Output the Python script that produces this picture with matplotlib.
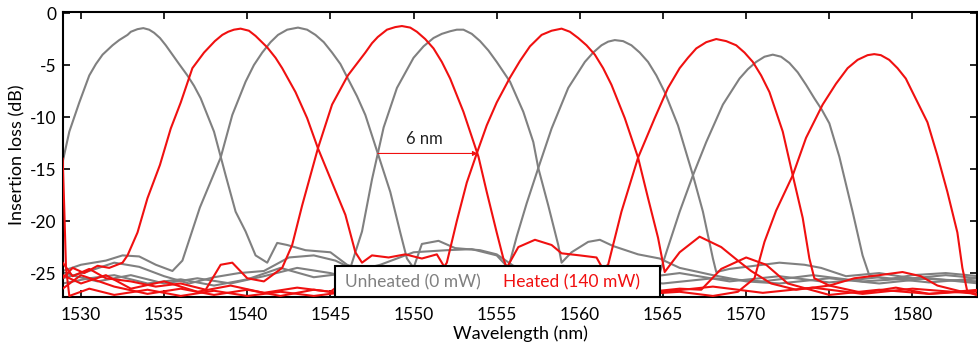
import matplotlib
matplotlib.use("Agg")
import matplotlib.pyplot as plt
from matplotlib.lines import Line2D
from matplotlib.patches import Rectangle

plt.rcParams['font.family'] = ['Lato', 'DejaVu Sans']

# ---------------- data ----------------
# Unheated (0 mW) channels
g1_wl = [1528.9, 1529.3, 1529.6, 1529.9, 1530.5, 1530.9, 1531.3, 1531.9, 1532.3, 1532.8, 1533.0, 1533.4,
         1533.75, 1534.1, 1534.4, 1534.75, 1535.1, 1535.5, 1535.9, 1536.4, 1536.8, 1537.2, 1538.0, 1538.7,
         1539.3, 1539.9, 1540.5, 1541.2, 1541.8, 1542.4, 1543.5, 1545.0, 1546.0, 1547.5, 1549.0, 1551.0,
         1553.0, 1556.0, 1559.0, 1562.0, 1565.0, 1568.0, 1571.0, 1574.0, 1577.0, 1580.0, 1584.0]
g1_il = [-14.3, -11.4, -10.0, -8.6, -6.0, -4.9, -4.0, -3.1, -2.6, -2.1, -1.8, -1.55,
         -1.45, -1.6, -1.9, -2.4, -3.1, -4.0, -4.9, -6.0, -7.0, -8.2, -11.4, -15.6,
         -19.1, -21.0, -23.3, -24.0, -22.1, -22.3, -22.8, -23.0, -24.2, -25.0, -25.5, -25.0,
         -25.8, -25.4, -26.0, -25.6, -26.0, -25.5, -25.8, -25.2, -25.8, -25.5, -25.8]

g2_wl = [1528.9, 1530.0, 1531.5, 1532.5, 1533.5, 1534.5, 1535.5, 1536.1, 1537.15, 1538.4, 1539.1, 1539.9,
         1540.4, 1540.9, 1541.4, 1541.85, 1542.4, 1543.05, 1543.6, 1544.1, 1544.6, 1545.1, 1545.6, 1546.05,
         1546.6, 1547.1, 1547.85, 1548.6, 1549.2, 1549.6, 1550.0, 1550.5, 1551.5, 1552.5, 1554.0, 1555.0,
         1556.0, 1558.0, 1560.0, 1563.0, 1566.0, 1569.0, 1572.0, 1575.0, 1578.0, 1581.0, 1584.0]
g2_il = [-24.8, -24.2, -23.8, -23.3, -23.4, -24.2, -24.8, -23.8, -18.7, -13.9, -9.8, -6.6,
         -5.0, -3.8, -2.8, -2.1, -1.6, -1.4, -1.6, -2.1, -2.8, -3.8, -4.9, -6.3,
         -8.0, -9.8, -13.5, -17.2, -21.1, -23.6, -24.5, -22.2, -21.9, -22.6, -22.8, -23.2,
         -24.3, -25.0, -24.8, -25.6, -25.0, -25.8, -25.3, -25.9, -25.4, -25.9, -25.5]

g3_wl = [1528.9, 1530.5, 1532.0, 1533.5, 1535.0, 1536.5, 1538.0, 1539.5, 1541.0, 1542.5, 1544.0, 1545.3,
         1546.2, 1546.9, 1547.5, 1547.85, 1548.2, 1549.0, 1550.0, 1550.6, 1551.2, 1551.7, 1552.2, 1552.6,
         1553.0, 1553.5, 1554.0, 1554.5, 1555.0, 1555.8, 1556.6, 1557.2, 1557.5, 1558.1, 1558.7, 1558.9,
         1559.5, 1560.5, 1561.2, 1562.0, 1563.5, 1564.8, 1566.0, 1568.0, 1570.0, 1572.0, 1575.0, 1578.0,
         1581.0, 1584.0]
g3_il = [-25.5, -24.8, -24.0, -24.4, -25.3, -26.0, -25.4, -25.0, -24.8, -23.5, -23.3, -23.8,
         -24.5, -21.0, -16.0, -13.5, -11.0, -7.2, -4.3, -3.2, -2.4, -2.0, -1.75, -1.6,
         -1.6, -2.0, -2.7, -3.6, -4.7, -6.6, -9.5, -12.4, -14.9, -18.5, -22.3, -24.0,
         -23.0, -22.0, -21.8, -22.4, -23.2, -23.6, -24.5, -25.2, -25.8, -26.0, -25.5, -26.0,
         -25.5, -26.0]

g4_wl = [1528.9, 1530.5, 1532.0, 1534.0, 1536.0, 1538.0, 1540.0, 1542.0, 1544.0, 1546.0, 1548.0, 1550.0,
         1552.0, 1553.5, 1555.0, 1555.7, 1556.2, 1556.8, 1557.5, 1558.3, 1559.3, 1560.3, 1560.8, 1561.3,
         1561.7, 1562.1, 1562.6, 1563.1, 1563.6, 1564.1, 1564.6, 1565.1, 1565.9, 1566.8, 1567.4, 1568.0,
         1568.2, 1569.0, 1570.5, 1572.0, 1573.5, 1574.5, 1576.0, 1578.0, 1580.0, 1582.0, 1584.0]
g4_il = [-26.0, -25.5, -25.2, -26.0, -25.6, -26.2, -25.6, -24.5, -25.4, -25.0, -24.2, -23.0,
         -22.8, -22.7, -23.3, -24.5, -21.5, -18.3, -14.9, -11.1, -7.2, -4.7, -3.8, -3.1,
         -2.75, -2.6, -2.7, -3.1, -3.8, -4.7, -6.0, -7.6, -10.8, -15.6, -19.1, -23.6,
         -24.9, -24.6, -24.3, -24.0, -24.2, -24.5, -25.3, -25.0, -25.5, -25.2, -25.5]

g5_wl = [1528.9, 1531.0, 1533.0, 1535.0, 1537.0, 1539.0, 1541.0, 1543.0, 1545.0, 1547.0, 1549.0, 1551.0,
         1553.0, 1555.0, 1557.0, 1559.0, 1561.0, 1563.0, 1564.3, 1564.8, 1565.2, 1566.0, 1566.8, 1567.6,
         1568.6, 1569.6, 1570.1, 1570.6, 1571.1, 1571.6, 1572.1, 1572.6, 1573.1, 1573.6, 1574.1, 1574.55,
         1575.0, 1575.6, 1576.4, 1577.0, 1577.4, 1578.5, 1580.0, 1582.0, 1584.0]
g5_il = [-25.0, -25.8, -25.2, -26.0, -25.5, -26.0, -25.3, -24.5, -25.0, -25.8, -25.2, -25.8,
         -25.0, -25.5, -24.8, -24.3, -24.8, -24.5, -24.8, -25.0, -23.0, -19.1, -15.6, -12.4,
         -8.8, -6.3, -5.4, -4.7, -4.2, -4.0, -4.2, -4.8, -5.7, -6.9, -8.2, -9.3,
         -10.6, -13.8, -19.1, -23.3, -25.2, -25.6, -25.2, -25.0, -25.3]

# Heated (140 mW) channels
r1_wl = [1528.9, 1529.5, 1530.2, 1531.0, 1531.7, 1532.5, 1532.8, 1533.4, 1534.0, 1534.75, 1535.4, 1536.0,
         1536.7, 1537.4, 1538.05, 1538.5, 1538.85, 1539.2, 1539.6, 1540.1, 1540.5, 1541.2, 1541.7, 1542.1,
         1542.9, 1543.6, 1544.25, 1545.1, 1545.9, 1546.5, 1546.9, 1547.5, 1548.5, 1549.5, 1550.5, 1551.4,
         1552.0, 1553.0, 1555.0, 1557.0, 1559.0, 1561.0, 1563.0, 1566.0, 1567.3, 1568.5, 1570.0, 1571.2,
         1572.5, 1575.0, 1578.0, 1581.0, 1584.0]
r1_il = [-25.5, -24.5, -25.0, -24.3, -24.5, -24.0, -23.3, -21.1, -17.8, -14.6, -11.1, -8.6,
         -5.3, -3.8, -2.7, -2.1, -1.8, -1.6, -1.5, -1.7, -2.2, -3.3, -4.3, -5.3,
         -7.6, -10.1, -13.0, -16.3, -19.4, -23.0, -24.0, -23.3, -23.5, -23.2, -23.6, -23.2,
         -24.8, -26.0, -26.6, -26.2, -26.8, -26.4, -27.0, -26.5, -26.6, -24.6, -23.5, -24.2,
         -26.0, -27.1, -26.6, -27.0, -26.7]

r2_wl = [1528.9, 1529.5, 1530.5, 1531.5, 1533.0, 1534.5, 1536.0, 1537.5, 1538.4, 1539.1, 1540.0, 1541.0,
         1542.1, 1542.7, 1543.3, 1544.25, 1545.1, 1546.05, 1547.1, 1547.5, 1547.85, 1548.4, 1548.9, 1549.3,
         1549.8, 1550.2, 1550.7, 1551.2, 1551.7, 1552.2, 1553.0, 1553.9, 1554.4, 1555.0, 1555.4, 1555.6,
         1556.3, 1557.3, 1558.3, 1558.9, 1560.0, 1561.0, 1561.7, 1563.0, 1565.0, 1568.0, 1571.0, 1574.0,
         1577.0, 1580.0, 1584.0]
r2_il = [-24.0, -25.3, -24.6, -25.5, -25.8, -26.3, -26.0, -26.6, -24.2, -24.0, -25.5, -25.8,
         -24.5, -22.3, -18.5, -13.0, -8.8, -6.0, -3.8, -2.9, -2.3, -1.6, -1.35, -1.25,
         -1.4, -1.8, -2.5, -3.4, -4.7, -6.3, -9.5, -13.8, -17.2, -21.1, -23.6, -24.5,
         -22.5, -21.8, -22.3, -23.1, -23.3, -23.5, -25.5, -26.3, -26.8, -26.3, -26.9, -26.4,
         -27.0, -26.5, -27.0]

r3_wl = [1528.9, 1530.0, 1531.5, 1533.0, 1535.0, 1537.0, 1539.0, 1541.0, 1543.0, 1545.0, 1546.5, 1548.0,
         1550.0, 1551.8, 1552.0, 1552.6, 1553.2, 1553.8, 1554.4, 1555.0, 1555.8, 1556.4, 1557.0, 1557.7,
         1558.3, 1558.9, 1559.4, 1559.9, 1560.4, 1560.9, 1561.4, 1561.9, 1562.7, 1563.5, 1564.1, 1564.7,
         1565.1, 1566.0, 1567.2, 1568.5, 1569.5, 1570.3, 1571.5, 1573.0, 1575.0, 1577.0, 1579.0, 1581.0,
         1584.0]
r3_il = [-25.2, -26.0, -25.2, -26.5, -25.8, -26.8, -26.2, -26.9, -26.4, -26.8, -25.0, -24.8,
         -25.2, -24.5, -24.0, -20.0, -16.3, -13.5, -10.8, -8.6, -6.2, -4.6, -3.2, -2.1,
         -1.7, -1.5, -1.8, -2.4, -3.1, -4.0, -5.3, -6.9, -10.1, -13.9, -17.8, -21.6,
         -24.9, -23.0, -21.5, -22.5, -23.8, -24.8, -26.0, -26.6, -26.2, -26.9, -26.4, -27.0,
         -26.6]

r4_wl = [1528.9, 1530.0, 1532.0, 1534.0, 1536.0, 1538.0, 1540.0, 1542.0, 1544.0, 1546.0, 1548.0, 1550.0,
         1552.0, 1554.0, 1556.0, 1558.0, 1560.0, 1561.0, 1561.7, 1562.5, 1563.5, 1564.5, 1565.3, 1566.0,
         1566.5, 1567.0, 1567.6, 1568.2, 1568.8, 1569.4, 1569.9, 1570.4, 1570.9, 1571.4, 1572.2, 1572.8,
         1573.4, 1573.8, 1574.1, 1575.0, 1576.5, 1578.0, 1579.4, 1580.5, 1581.5, 1583.0, 1584.0]
r4_il = [-26.5, -25.2, -26.3, -27.0, -26.5, -27.1, -26.6, -27.2, -26.6, -27.0, -26.5, -27.0,
         -26.4, -26.9, -26.3, -26.6, -25.8, -25.0, -24.2, -19.1, -13.9, -10.1, -7.2, -5.3,
         -4.3, -3.4, -2.8, -2.5, -2.7, -3.1, -3.8, -4.7, -6.0, -7.6, -11.4, -15.6,
         -19.7, -23.6, -25.5, -26.2, -25.5, -25.2, -24.9, -25.3, -26.2, -26.8, -27.0]

r5_wl = [1528.9, 1529.0, 1529.1, 1529.3, 1530.5, 1532.0, 1534.0, 1536.0, 1538.0, 1540.0, 1542.0, 1544.0,
         1546.0, 1548.0, 1550.0, 1552.0, 1554.0, 1556.0, 1558.0, 1560.0, 1562.0, 1564.0, 1566.0, 1568.0,
         1569.5, 1570.5, 1571.1, 1571.8, 1572.8, 1573.6, 1574.6, 1575.4, 1576.1, 1576.7, 1577.3, 1577.7,
         1578.1, 1578.6, 1579.1, 1579.6, 1580.0, 1580.9, 1581.5, 1582.1, 1582.7, 1583.0, 1583.3, 1584.0]
r5_il = [-14.0, -19.0, -24.5, -27.2, -26.5, -27.1, -26.6, -27.2, -26.7, -27.2, -26.8, -27.2,
         -26.8, -27.2, -26.9, -27.2, -26.6, -27.0, -26.5, -27.1, -26.5, -27.0, -26.8, -27.2,
         -26.8, -25.5, -22.0, -19.0, -15.6, -12.0, -8.8, -6.8, -5.3, -4.5, -4.05, -3.95,
         -4.05, -4.5, -5.3, -6.3, -7.6, -10.5, -13.7, -17.2, -21.1, -24.5, -26.8, -27.2]

unheated = [(g1_wl, g1_il), (g2_wl, g2_il), (g3_wl, g3_il), (g4_wl, g4_il), (g5_wl, g5_il)]
heated = [(r1_wl, r1_il), (r2_wl, r2_il), (r3_wl, r3_il), (r4_wl, r4_il), (r5_wl, r5_il)]

x_ticks = [1530, 1535, 1540, 1545, 1550, 1555, 1560, 1565, 1570, 1575, 1580]
y_ticks = [0, -5, -10, -15, -20, -25]
legend_labels = ['Unheated (0 mW)', 'Heated (140 mW)']

# 6 nm shift annotation (between crossing points)
shift_start = (1547.85, -13.5)
shift_end = (1553.85, -13.5)

grey = '#808080'
red = '#f01010'

# ---------------- figure ----------------
W, H = 979, 347
fig = plt.figure(figsize=(W / 100, H / 100), dpi=100)
ax_l, ax_r, ax_t, ax_b = 63, 977, 12, 297
ax = fig.add_axes([ax_l / W, 1 - ax_b / H, (ax_r - ax_l) / W, (ax_b - ax_t) / H])

for wl, il in unheated:
    ax.plot(wl, il, color=grey, lw=1.5, zorder=2, solid_joinstyle='round')
for wl, il in heated:
    ax.plot(wl, il, color=red, lw=1.5, zorder=3, solid_joinstyle='round')

ax.annotate('', xy=shift_end, xytext=shift_start,
            arrowprops=dict(arrowstyle='-|>', color=red, lw=0.8, mutation_scale=7,
                            shrinkA=0, shrinkB=0), zorder=4)
ax.text((shift_start[0] + shift_end[0]) / 2 - 0.2, -12.1, '6 nm', ha='center', va='center',
        fontsize=12, color='#222222', zorder=4)

ax.set_xlim(1528.92, 1583.88)
ax.set_ylim(-27.3, 0.1)
ax.set_xticks(x_ticks)
ax.set_yticks(y_ticks)
ax.set_xticklabels([str(t) for t in x_ticks])
ax.set_yticklabels([str(t) for t in y_ticks])
ax.tick_params(direction='in', top=True, right=True, length=5, width=1.2,
               labelsize=12.5, colors='black')
ax.tick_params(axis='x', pad=7)
ax.tick_params(axis='y', pad=5)
for s in ax.spines.values():
    s.set_linewidth(1.5)
    s.set_color('black')

ax.set_xlabel('Wavelength (nm)', fontsize=13, labelpad=2)
ax.set_ylabel('Insertion loss (dB)', fontsize=13, labelpad=3)

# legend box (frame drawn as a rectangle in axes coordinates)
aw, ah = ax_r - ax_l, ax_b - ax_t
box_l, box_r, box_t = 335, 660, 266
ax.add_patch(Rectangle(((box_l - ax_l) / aw, 0.0), (box_r - box_l) / aw, (ax_b - box_t) / ah,
                       transform=ax.transAxes, facecolor='white', edgecolor='black',
                       lw=1.5, zorder=9, clip_on=False))
handles = [Line2D([], [], color='none'), Line2D([], [], color='none')]
leg = ax.legend(handles, legend_labels, ncol=2, frameon=False,
                loc='center left',
                bbox_to_anchor=((345 - ax_l) / aw, (ax_b - 282) / ah),
                borderaxespad=0, borderpad=0, handlelength=0, handletextpad=0,
                columnspacing=1.3, fontsize=12.5)
leg.set_zorder(10)
for t, c in zip(leg.get_texts(), [grey, red]):
    t.set_color(c)

fig.savefig('out.png', dpi=100)
